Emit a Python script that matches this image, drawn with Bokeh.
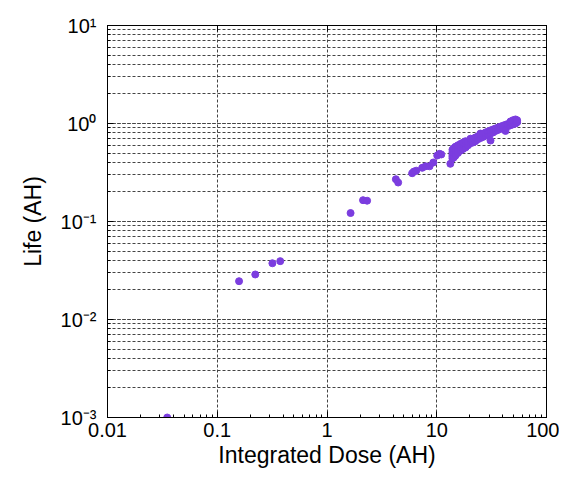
from bokeh.plotting import figure
from bokeh.models import LogAxis, LogTicker, CustomJSTickFormatter, Range1d
from bokeh.embed import file_html
from bokeh.resources import INLINE

# ---- data ----
dose = [0.035, 0.158, 0.222, 0.318, 0.375, 1.64, 2.13, 2.32, 4.24, 4.45,
        5.97, 6.18, 6.5, 7.37, 7.9, 8.6, 9.3, 10.1, 10.6, 11.0, 13.3,
        13.9, 13.9, 13.9, 13.9, 13.9, 14.3, 14.3, 14.3, 14.8, 14.8, 14.8,
        15.6, 15.6, 15.6, 16.5, 16.5, 16.5, 17.4, 17.4, 17.4, 18.3, 18.3, 18.3,
        19.3, 19.3, 20.3, 20.3, 20.3, 21.4, 21.4, 22.5, 22.5, 23.7, 23.7,
        25.0, 25.0, 25.0, 26.4, 26.4, 27.8, 27.8, 29.3, 29.3,
        30.9, 30.9, 30.9, 32.6, 32.6, 34.3, 34.3, 36.2, 36.2, 38.1, 38.1,
        40.1, 40.1, 42.3, 42.3, 42.3, 44.6, 44.6, 47.0, 47.0, 47.0,
        49.5, 49.5, 49.5, 52.2, 52.2, 52.2, 54.0, 54.0]
life = [0.001, 0.0246, 0.0288, 0.0375, 0.0394, 0.122, 0.165, 0.163, 0.270, 0.250,
        0.311, 0.323, 0.33, 0.353, 0.366, 0.366, 0.40, 0.471, 0.49, 0.483, 0.388,
        0.44, 0.46, 0.48, 0.51, 0.54, 0.45, 0.50, 0.56, 0.47, 0.53, 0.58,
        0.50, 0.55, 0.60, 0.53, 0.58, 0.62, 0.55, 0.61, 0.64, 0.57, 0.62, 0.66,
        0.60, 0.65, 0.63, 0.68, 0.70, 0.64, 0.70, 0.66, 0.72, 0.69, 0.74,
        0.71, 0.77, 0.79, 0.73, 0.78, 0.75, 0.81, 0.77, 0.83,
        0.79, 0.85, 0.67, 0.81, 0.87, 0.84, 0.89, 0.86, 0.91, 0.88, 0.93,
        0.90, 0.95, 0.92, 0.97, 0.84, 0.94, 0.99, 0.96, 1.02, 1.05,
        0.98, 1.04, 1.08, 1.00, 1.06, 1.10, 1.03, 1.08]

x_title = "Integrated Dose (AH)"
y_title = "Life (AH)"
x_lim = (0.01, 100)
y_lim = (0.001, 10)

FONT = "Liberation Sans"

p = figure(width=559, height=470, x_axis_type="log", y_axis_type="log",
           x_range=Range1d(*x_lim), y_range=Range1d(*y_lim),
           output_backend="svg", toolbar_location=None,
           min_border_left=107, min_border_right=13, min_border_top=25,
           min_border_bottom=53)
p.background_fill_color = "white"
p.border_fill_color = "white"
p.outline_line_color = "black"
p.outline_line_width = 1

p.scatter(dose, life, size=7, color="#7b3ddf", line_color="#7b3ddf")

xfmt = CustomJSTickFormatter(code="""
    if (tick >= 1) { return tick.toFixed(0); }
    return String(parseFloat(tick.toPrecision(3)));
""")
yfmt = CustomJSTickFormatter(code="""
    const e = Math.round(Math.log10(tick));
    const sup = {"-":"\\u207b","0":"\\u2070","1":"\\u00b9","2":"\\u00b2","3":"\\u00b3"};
    return "10" + String(e).split("").map(c => sup[c]).join("");
""")

xa = p.xaxis[0]
xa.formatter = xfmt
ya = p.yaxis[0]
ya.formatter = yfmt

for ax in (xa, ya):
    ax.axis_line_color = "black"
    ax.major_tick_in = 6
    ax.major_tick_out = 0
    ax.minor_tick_in = 3
    ax.minor_tick_out = 0
    ax.major_tick_line_color = "black"
    ax.minor_tick_line_color = "black"
    ax.major_label_text_font = FONT
    ax.major_label_text_font_size = "20px"
    ax.major_label_text_color = "black"
    ax.axis_label_text_font = FONT
    ax.axis_label_text_font_size = "23px"
    ax.axis_label_text_font_style = "normal"
    ax.axis_label_text_color = "black"

xa.axis_label = x_title
ya.axis_label = y_title
xa.major_label_standoff = 5
xa.axis_label_standoff = 2
ya.major_label_standoff = 11
ya.axis_label_standoff = 12

# mirrored tick axes on right and top (labels hidden)
ra = LogAxis(ticker=LogTicker(), major_label_text_font_size="2px",
             major_label_text_color=None,
             major_tick_in=6, major_tick_out=0, minor_tick_in=3, minor_tick_out=0,
             axis_line_color="black", major_label_standoff=0)
ta = LogAxis(ticker=LogTicker(), major_label_text_font_size="2px",
             major_label_text_color=None,
             major_tick_in=6, major_tick_out=0, minor_tick_in=0, minor_tick_out=0,
             axis_line_color="black", major_label_standoff=0)
p.add_layout(ra, "right")
p.add_layout(ta, "above")

# grids
p.xgrid.grid_line_color = "#444444"
p.xgrid.grid_line_dash = "3 2"
p.xgrid.grid_line_width = 1
p.ygrid.grid_line_color = "#444444"
p.ygrid.grid_line_dash = "3 2"
p.ygrid.minor_grid_line_color = "#444444"
p.ygrid.minor_grid_line_dash = "3 2"

open("out.html", "w").write(file_html(p, INLINE))
